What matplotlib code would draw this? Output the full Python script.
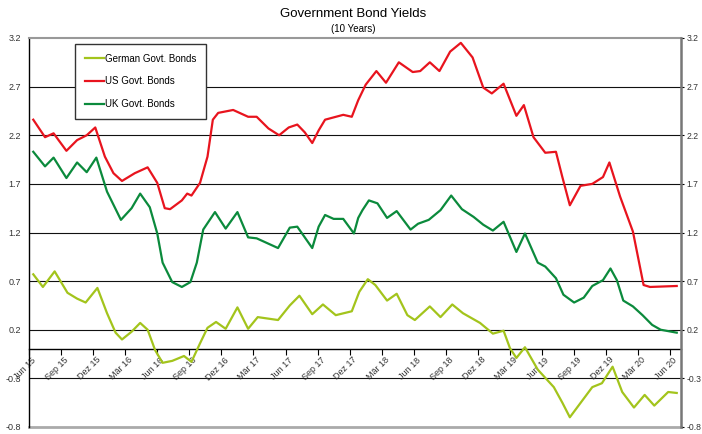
import matplotlib
matplotlib.use('Agg')
import matplotlib.pyplot as plt
import matplotlib.transforms as mtransforms

plt.rcParams['font.family'] = ['Liberation Sans', 'DejaVu Sans']

# x = months since Jun 2015
tick_months = list(range(0, 61, 3))
tick_labels = ['Jun 15', 'Sep 15', 'Dez 15', 'Mär 16', 'Jun 16', 'Sep 16', 'Dez 16',
               'Mär 17', 'Jun 17', 'Sep 17', 'Dez 17', 'Mär 18', 'Jun 18', 'Sep 18',
               'Dez 18', 'Mär 19', 'Jun 19', 'Sep 19', 'Dez 19', 'Mär 20', 'Jun 20']
y_ticks = [-0.8, -0.3, 0.2, 0.7, 1.2, 1.7, 2.2, 2.7, 3.2]

german_x = [0.4, 1.3, 2.4, 3.6, 4.5, 5.3, 6.4, 7.3, 8.1, 8.7, 9.6, 10.4, 11.1, 11.8,
            12.5, 13.4, 14.5, 15.2, 16.0, 16.7, 17.5, 18.4, 19.5, 20.5, 21.4, 23.3,
            24.4, 25.3, 26.5, 27.5, 28.7, 30.2, 30.9, 31.7, 32.4, 33.5, 34.4, 35.4,
            36.1, 37.5, 38.5, 39.6, 40.6, 42.2, 43.4, 44.4, 45.0, 45.6, 46.4, 47.6,
            49.1, 49.9, 50.6, 52.7, 53.6, 54.6, 55.5, 56.6, 57.6, 58.5, 59.8, 60.6]
german_y = [0.77, 0.64, 0.80, 0.58, 0.52, 0.48, 0.63, 0.37, 0.17, 0.10, 0.18, 0.27, 0.20, -0.01,
            -0.14, -0.12, -0.07, -0.13, 0.06, 0.22, 0.28, 0.21, 0.43, 0.21, 0.33, 0.30,
            0.45, 0.55, 0.36, 0.46, 0.35, 0.39, 0.59, 0.72, 0.66, 0.50, 0.57, 0.35,
            0.30, 0.44, 0.33, 0.46, 0.37, 0.27, 0.16, 0.19, 0.01, -0.09, 0.02, -0.21,
            -0.39, -0.55, -0.70, -0.39, -0.35, -0.18, -0.44, -0.60, -0.47, -0.58, -0.44, -0.45]

us_x = [0.4, 1.5, 2.3, 3.5, 4.5, 5.4, 6.2, 7.1, 7.9, 8.7, 9.9, 11.1, 12.0, 12.7, 13.2,
        14.3, 14.8, 15.2, 16.0, 16.7, 17.2, 17.7, 19.1, 20.5, 21.3, 22.4, 23.4, 24.3,
        25.1, 25.8, 26.5, 27.1, 27.7, 29.4, 30.2, 30.8, 31.5, 32.5, 33.4, 34.6, 35.9,
        36.6, 37.5, 38.4, 39.4, 40.4, 41.5, 42.5, 43.3, 44.4, 45.6, 46.3, 47.2, 48.3,
        49.3, 49.9, 50.6, 51.6, 52.7, 53.7, 54.3, 55.3, 56.5, 57.5, 58.1, 60.6]
us_y = [2.36, 2.18, 2.22, 2.04, 2.15, 2.20, 2.28, 1.98, 1.81, 1.73, 1.81, 1.87, 1.71, 1.45, 1.44,
        1.53, 1.60, 1.58, 1.71, 1.98, 2.36, 2.43, 2.46, 2.39, 2.39, 2.27, 2.20, 2.28,
        2.31, 2.23, 2.12, 2.25, 2.36, 2.41, 2.39, 2.56, 2.72, 2.86, 2.74, 2.95, 2.85,
        2.86, 2.95, 2.86, 3.06, 3.15, 3.00, 2.69, 2.63, 2.73, 2.40, 2.51, 2.18, 2.02,
        2.03, 1.77, 1.48, 1.68, 1.70, 1.77, 1.92, 1.57, 1.21, 0.66, 0.64, 0.65]

uk_x = [0.4, 1.5, 2.3, 3.5, 4.5, 5.4, 6.3, 7.3, 8.6, 9.6, 10.4, 11.3, 12.0, 12.5, 13.4,
        14.3, 15.1, 15.7, 16.3, 17.4, 18.4, 19.5, 20.5, 21.3, 23.3, 24.4, 25.1, 26.5,
        27.1, 27.7, 28.5, 29.4, 30.4, 30.8, 31.2, 31.8, 32.6, 33.5, 34.4, 35.7, 36.4,
        37.4, 38.5, 39.5, 40.5, 41.6, 42.5, 43.4, 44.4, 45.6, 46.4, 47.6, 48.3, 49.3,
        50.0, 51.0, 51.9, 52.7, 53.7, 54.4, 55.0, 55.6, 56.5, 57.4, 58.3, 59.1, 60.6]
uk_y = [2.03, 1.88, 1.97, 1.76, 1.92, 1.82, 1.97, 1.62, 1.33, 1.45, 1.60, 1.46, 1.19, 0.89, 0.69,
        0.64, 0.69, 0.89, 1.23, 1.41, 1.24, 1.41, 1.15, 1.14, 1.04, 1.25, 1.26, 1.04,
        1.26, 1.38, 1.34, 1.34, 1.19, 1.35, 1.43, 1.53, 1.50, 1.35, 1.42, 1.23, 1.29,
        1.33, 1.43, 1.58, 1.44, 1.36, 1.28, 1.22, 1.31, 1.00, 1.19, 0.89, 0.85, 0.73,
        0.56, 0.48, 0.53, 0.65, 0.71, 0.83, 0.71, 0.50, 0.44, 0.35, 0.25, 0.20, 0.17]

fig = plt.figure(figsize=(7.02, 4.34), dpi=100)
ax = fig.add_axes([29 / 702, 7 / 434, 652 / 702, 389 / 434])

for v in y_ticks[1:-1]:
    ax.axhline(v, color='#111111', lw=0.8, zorder=1)

ax.plot(german_x, german_y, color='#a3c41c', lw=1.6, label='German Govt. Bonds', zorder=3)
ax.plot(us_x, us_y, color='#e8141e', lw=1.6, label='US Govt. Bonds', zorder=3)
ax.plot(uk_x, uk_y, color='#0b8a3c', lw=1.6, label='UK Govt. Bonds', zorder=3)

ax.set_xlim(0, 61)
ax.set_ylim(-0.8, 3.2)
ax.set_yticks(y_ticks)
ax.set_yticklabels(['%.1f' % v for v in y_ticks])
ax.tick_params(axis='y', length=0, pad=6, labelsize=6.5, labelcolor='#333333')

ax.spines['bottom'].set_position(('data', 0))
ax.spines['bottom'].set_color('black')
ax.spines['bottom'].set_linewidth(1.0)
ax.spines['left'].set_color('black')
ax.spines['left'].set_linewidth(1.0)
ax.spines['top'].set_color('#999999')
ax.spines['top'].set_linewidth(1.5)
ax.spines['right'].set_visible(False)
ax.axhline(-0.8, color='#aaaaaa', lw=2, clip_on=False, zorder=2)

ax.set_xticks(tick_months)
ax.set_xticklabels(tick_labels, rotation=45, rotation_mode='anchor', ha='center', va='center')
ax.tick_params(axis='x', direction='out', length=4, width=0.8, pad=10, labelsize=6.5,
               labelcolor='#333333')
shift = mtransforms.ScaledTranslation(-4 / 100, 0, fig.dpi_scale_trans)
for lab in ax.get_xticklabels():
    lab.set_transform(lab.get_transform() + shift)

ax2 = ax.twinx()
ax2.set_ylim(-0.8, 3.2)
ax2.set_yticks(y_ticks)
ax2.set_yticklabels(['%.1f' % v for v in y_ticks])
ax2.tick_params(axis='y', length=2.5, width=0.8, pad=1.5, labelsize=6.2, labelcolor='#333333')
for s in ['left', 'top', 'bottom']:
    ax2.spines[s].set_visible(False)
ax2.spines['right'].set_color('#777777')
ax2.spines['right'].set_linewidth(1.8)

leg = ax.legend(loc='upper left', bbox_to_anchor=(75 / 702, 1 - 44 / 434),
                bbox_transform=fig.transFigure, fancybox=False, edgecolor='#333333',
                fontsize=7, handlelength=2.0, handletextpad=0.1, labelspacing=1.3,
                borderpad=1.0, borderaxespad=0, framealpha=1)
leg.get_frame().set_linewidth(1.0)

fig.text(353 / 702, 1 - 14 / 434, 'Government Bond Yields', ha='center', va='center', fontsize=9.5)
fig.text(353 / 702, 1 - 29 / 434, '(10 Years)', ha='center', va='center', fontsize=7)

fig.savefig('out.png', dpi=100)
